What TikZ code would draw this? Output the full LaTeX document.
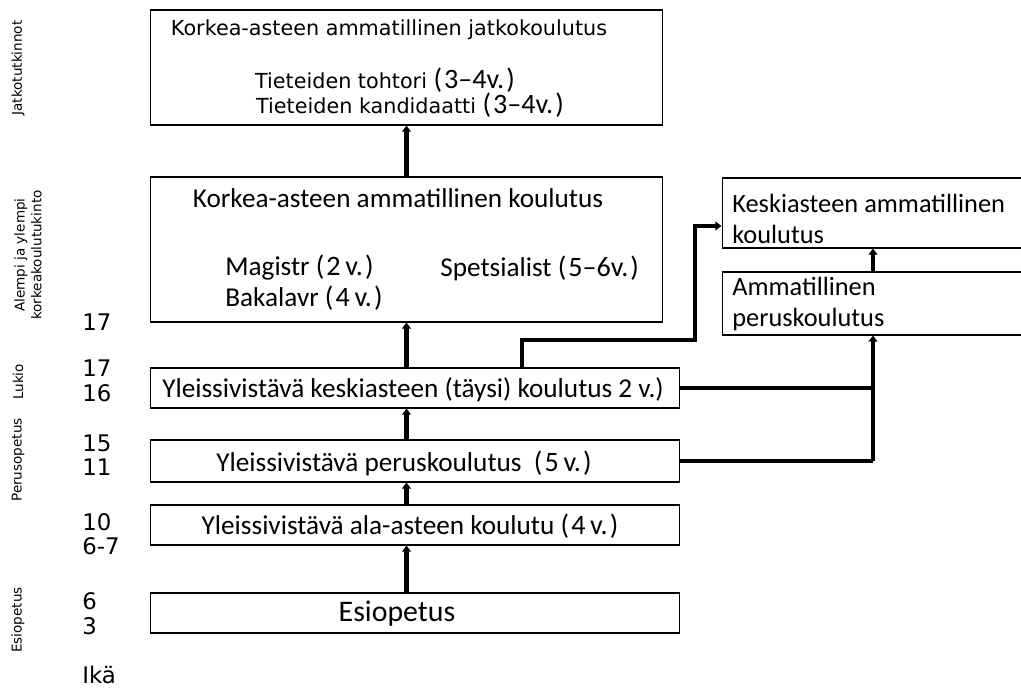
\documentclass[tikz,border=0pt]{standalone}
\usepackage{fontspec}
\setmainfont{Carlito}
\newfontfamily\verd{DejaVu Sans}
\usetikzlibrary{positioning,calc,arrows.meta}

\tikzset{
  box/.style={draw, line width=0.6pt, inner sep=0pt},
  boxtext/.style={font=\fontsize{15.5}{18.5}\selectfont, inner sep=0pt},
  toptext/.style={font=\verd\fontsize{11.8}{14}\selectfont, inner sep=0pt},
  conn/.style={line width=2.4pt, -{Triangle[length=3.5pt,width=5pt]}},
  plain/.style={line width=2.4pt},
  agenum/.style={font=\verd\fontsize{13}{15}\selectfont, anchor=west, inner sep=0pt},
  side/.style={font=\verd\fontsize{7.7}{9.5}\selectfont, rotate=90, align=center, inner sep=0pt},
}
% spaced year counts as in the original
\newcommand{\yrs}[1]{{\fontsize{16}{19}\selectfont\rmfamily(\kern1.2pt#1\kern1.2pt)}}

\begin{document}
\begin{tikzpicture}[x=0.02cm, y=-0.02cm]
  \useasboundingbox (0,0) rectangle (1021,689);

  % Left column labels
  \node[side] (s1) at (18,68) {Jatkotutkinnot};
  \node[side] (s2) at (28,255) {Alempi ja ylempi\\korkeakoulutukinto};
  \node[side] (s3) at (18,382) {Lukio};
  \node[side] (s4) at (18,460) {Perusopetus};
  \node[side] (s5) at (18,620) {Esiopetus};

  % Ages
  \node[agenum] (a1) at (82,322) {17};
  \node[agenum] (a2) at (82,368) {17};
  \node[agenum] (a3) at (82,393) {16};
  \node[agenum] (a4) at (82,443) {15};
  \node[agenum] (a5) at (82,467) {11};
  \node[agenum] (a6) at (82,522) {10};
  \node[agenum] (a7) at (82,546) {6-7};
  \node[agenum] (a8) at (82,601) {6};
  \node[agenum] (a9) at (82,626) {3};
  \node[agenum] (a10) at (82,675) {Ikä};

  % Main column
  \node[box, minimum width=10.26cm, minimum height=2.3cm] (jatko) at (406.5,67.5) {};
  \node[toptext] (jatkoT) at (389,30) {Korkea-asteen ammatillinen jatkokoulutus};
  \node[toptext] (jatkoA) at (385,80) {Tieteiden tohtori \yrs{3--4v.}};
  \node[toptext] (jatkoB) at (410,105) {Tieteiden kandidaatti \yrs{3--4v.}};

  \node[box, minimum width=10.26cm, minimum height=2.9cm] (korkea) at (406.5,249.5) {};
  \node[boxtext] (korkeaT) at (398,198) {Korkea-asteen ammatillinen koulutus};
  \node[boxtext, anchor=west] (mag) at (225,268) {Magistr \yrs{2\,v.}};
  \node[boxtext, anchor=west] (spe) at (440,268) {Spetsialist \yrs{5--6v.}};
  \node[boxtext, anchor=west] (bak) at (225,298) {Bakalavr \yrs{4\,v.}};

  \node[box, minimum width=10.6cm, minimum height=0.8cm] (lukio) at (415,388) {};
  \node[boxtext] (lukioT) at (413,390) {Yleissivistävä keskiasteen (täysi) koulutus 2 v.)};

  \node[box, minimum width=10.6cm, minimum height=0.84cm] (perus) at (415,461) {};
  \node[boxtext] (perusT) at (404,463) {Yleissivistävä peruskoulutus~~\yrs{5\,v.}};

  \node[box, minimum width=10.6cm, minimum height=0.8cm] (ala) at (415,525) {};
  \node[boxtext] (alaT) at (410,526) {Yleissivistävä ala-asteen koulutu \yrs{4\,v.}};

  \node[box, minimum width=10.6cm, minimum height=0.8cm] (esi) at (415,613) {};
  \node[boxtext, font=\fontsize{17}{20}\selectfont] (esiT) at (397,614) {Esiopetus};

  % Right column
  \node[box, minimum width=6.04cm, minimum height=1.4cm] (keski) at (873,213) {};
  \node[boxtext, anchor=west, align=left, font=\fontsize{15}{18}\selectfont] (keskiT) at (732,219) {Keskiasteen ammatillinen\\koulutus};
  \node[box, minimum width=6.04cm, minimum height=1.26cm] (ammat) at (873,303.5) {};
  \node[boxtext, anchor=west, align=left, font=\fontsize{15}{18}\selectfont] (ammatT) at (732,304) {Ammatillinen\\peruskoulutus};

  % Connectors
  \draw[conn] (korkea.north) -- (jatko.south);
  \draw[conn] (korkea.south |- lukio.north) -- (korkea.south);
  \draw[conn] (korkea.south |- perus.north) -- (korkea.south |- lukio.south);
  \draw[conn] (korkea.south |- ala.north) -- (korkea.south |- perus.south);
  \draw[conn] (korkea.south |- esi.north) -- (korkea.south |- ala.south);

  \coordinate (split) at (522,368);
  \coordinate (bend) at (695,340);
  \draw[conn] (split) |- (bend) |- (keski.west |- 0,226);

  \coordinate (join) at (ammat.south |- lukio.east);
  \draw[plain] (lukio.east) -- (join);
  \draw[plain] (perus.east) -- (perus.east -| ammat.south);
  \draw[conn] (perus.east -| ammat.south) -- (ammat.south);
  \draw[conn] (ammat.north) -- (keski.south);
\end{tikzpicture}
\end{document}
